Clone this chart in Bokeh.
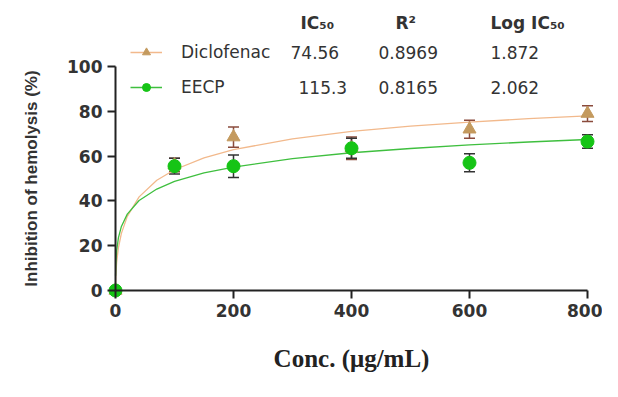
import math
from bokeh.plotting import figure
from bokeh.models import (ColumnDataSource, Whisker, TeeHead, Label, Legend,
                          LegendItem, Range1d)
from bokeh.embed import file_html
from bokeh.resources import INLINE

# ---------------- data ----------------
conc = [0, 100, 200, 400, 600, 800]
diclo_mean = [0, 56.0, 68.5, 63.5, 72.0, 79.0]
diclo_err = [0, 3.0, 4.5, 5.0, 4.0, 3.5]
eecp_mean = [0, 55.5, 55.5, 63.5, 57.0, 66.5]
eecp_err = [0, 3.5, 5.0, 4.5, 4.0, 3.0]

# fitted curves
curve_x = [0.1, 0.5, 2, 5, 10, 20, 40, 70, 100, 150, 200, 300, 400, 500, 600, 700, 800]
diclo_curve = [2.9, 6.5, 12.7, 19.2, 25.5, 33.1, 41.8, 49.2, 53.9, 59.2, 62.9, 67.7, 71.0, 73.4, 75.2, 76.7, 78.0]
eecp_curve = [6.6, 11.5, 17.9, 23.6, 28.6, 34.1, 40.2, 45.3, 48.7, 52.5, 55.1, 58.9, 61.5, 63.4, 65.0, 66.3, 67.4]

series_names = ["Diclofenac", "EECP"]
ic50 = ["74.56", "115.3"]
r2 = ["0.8969", "0.8165"]
log_ic50 = ["1.872", "2.062"]
header = ["IC₅₀", "R²", "Log IC₅₀"]
x_ticks = [0, 200, 400, 600, 800]
y_ticks = [0, 20, 40, 60, 80, 100]

# ---------------- figure ----------------
W, H = 602, 381
X0, X800 = 115, 587      # canvas px of x=0 and x=800
Y0, Y100 = 290, 66       # canvas px of y=0 and y=100
sx = (X800 - X0) / 800.0
sy = (Y0 - Y100) / 100.0
p = figure(width=W, height=H, output_backend="svg", toolbar_location=None,
           x_range=Range1d(-X0 / sx, (W - X0) / sx),
           y_range=Range1d(-(H - Y0) / sy, Y0 / sy),
           min_border_left=0, min_border_right=0, min_border_top=0,
           min_border_bottom=0)
p.background_fill_color = "white"
p.border_fill_color = "white"
p.outline_line_color = None
p.grid.visible = False

GREEN = "#16C416"
TAN = "#C49A5E"

# curves
diclo_line = p.line(curve_x, diclo_curve, line_color="#F2B98C", line_width=1.3)
eecp_line = p.line(curve_x, eecp_curve, line_color="#3FBF3F", line_width=1.3)

# error bars
d_src = ColumnDataSource(dict(x=conc, y=diclo_mean,
                              lo=[m - e for m, e in zip(diclo_mean, diclo_err)],
                              hi=[m + e for m, e in zip(diclo_mean, diclo_err)]))
e_src = ColumnDataSource(dict(x=conc, y=eecp_mean,
                              lo=[m - e for m, e in zip(eecp_mean, eecp_err)],
                              hi=[m + e for m, e in zip(eecp_mean, eecp_err)]))
for src, col in ((d_src, "#8A4B3C"), (e_src, "#333333")):
    w = Whisker(source=src, base="x", lower="lo", upper="hi", line_color=col,
                line_width=1.5,
                upper_head=TeeHead(size=11, line_color=col, line_width=1.5),
                lower_head=TeeHead(size=11, line_color=col, line_width=1.5))
    p.add_layout(w)

# markers
diclo_pts = p.scatter("x", "y", source=d_src, marker="triangle", size=13,
                      fill_color=TAN, line_color=TAN)
eecp_pts = p.scatter("x", "y", source=e_src, marker="circle", size=13,
                     fill_color=GREEN, line_color=GREEN)

# ---------------- axes ----------------
for ax in (p.xaxis[0], p.yaxis[0]):
    ax.fixed_location = 0
    ax.axis_line_width = 2
    ax.axis_line_color = "#222222"
    ax.major_tick_line_width = 2
    ax.major_tick_line_color = "#222222"
    ax.major_tick_in = 0
    ax.major_tick_out = 8
    ax.minor_tick_line_color = None
    ax.major_label_text_font = "DejaVu Sans"
    ax.major_label_text_font_style = "bold"
    ax.major_label_text_font_size = "17px"
    ax.major_label_text_color = "#333333"
p.xaxis.bounds = (0, 800)
p.yaxis.bounds = (0, 100)
p.xaxis.ticker = x_ticks
p.yaxis.ticker = y_ticks
p.xaxis.major_label_standoff = 5
p.yaxis.major_label_standoff = 5


def add_text(txt, X, Y, bold=False, size="17px", font="DejaVu Sans",
             align="left", angle=0.0, color="#333333"):
    p.add_layout(Label(x=X, y=H - Y, x_units="screen", y_units="screen",
                       text=txt, text_font=font, text_font_size=size,
                       text_font_style="bold" if bold else "normal",
                       text_color=color, text_baseline="middle",
                       text_align=align, angle=angle))


# axis titles
add_text("Inhibition of hemolysis (%)", 31, 178, bold=True, size="17px",
         font="Liberation Sans", align="center", angle=math.pi / 2)
add_text("Conc. (μg/mL)", 351, 358, bold=True, size="25px",
         font="Liberation Serif", align="center", color="#222222")

# ---------------- legend table ----------------
legend = Legend(items=[LegendItem(label=series_names[0], renderers=[diclo_line, diclo_pts]),
                       LegendItem(label=series_names[1], renderers=[eecp_line, eecp_pts])],
                location=(130, H - 97), orientation="vertical",
                glyph_width=32, glyph_height=20, label_height=20, spacing=15,
                label_standoff=19, padding=0, margin=0,
                border_line_color=None, background_fill_alpha=0,
                label_text_font="DejaVu Sans", label_text_font_size="17px",
                label_text_color="#333333")
p.add_layout(legend)

header_x = [300, 395, 490]
for t, X in zip(header, header_x):
    add_text(t, X, 22, bold=True)
rows_y = [52, 87]
ic50_x = [290, 298]
for i, Y in enumerate(rows_y):
    add_text(ic50[i], ic50_x[i], Y)
    add_text(r2[i], 378, Y)
    add_text(log_ic50[i], 490, Y)

open("out.html", "w").write(file_html(p, INLINE))
